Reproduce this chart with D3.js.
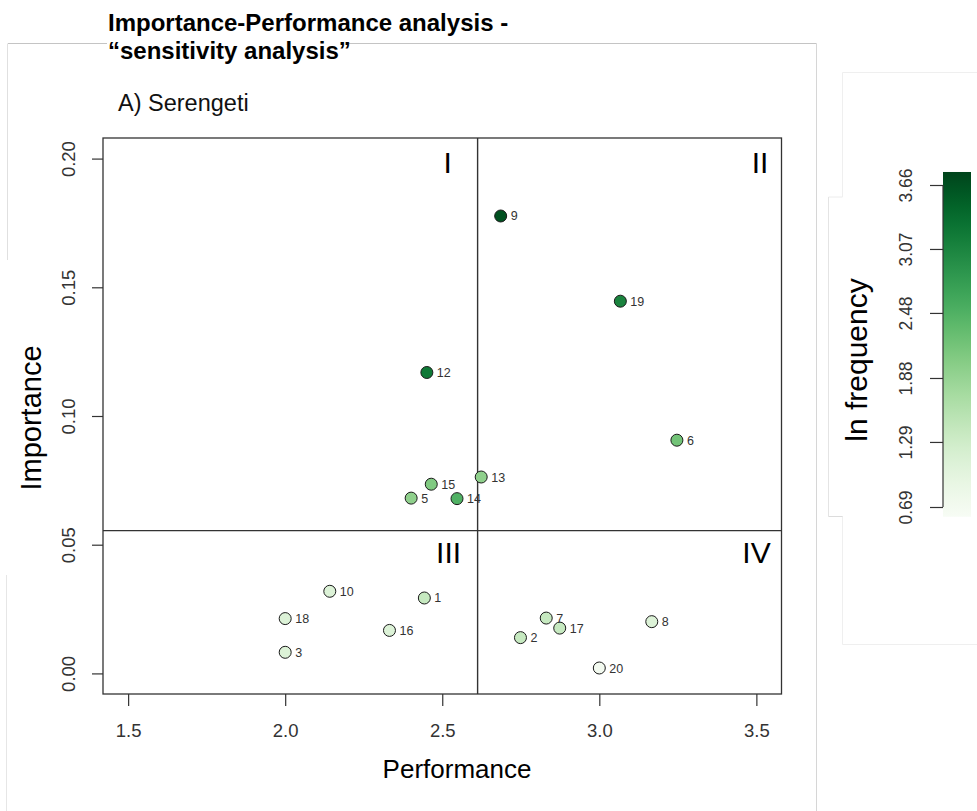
<!DOCTYPE html>
<html>
<head>
<meta charset="utf-8">
<script src="https://cdn.jsdelivr.net/npm/d3@7"></script>
<style>
  html, body { margin: 0; padding: 0; background: #fff; }
  svg { display: block; font-family: "Liberation Sans", Arial, Helvetica, sans-serif; }
</style>
</head>
<body>
<svg id="chart" width="977" height="811"></svg>
<script>
// Attribute ids, their performance / importance scores and ln(frequency)
const ids = [1, 2, 3, 5, 6, 7, 8, 9, 10, 12, 13, 14, 15, 16, 17, 18, 19, 20];
const performance = [2.443, 2.749, 2.000, 2.401, 3.247, 2.831, 3.167, 2.686, 2.142,
                     2.451, 2.624, 2.547, 2.465, 2.332, 2.874, 2.000, 3.067, 3.000];
const importance = [0.0293, 0.0139, 0.0082, 0.0681, 0.0906, 0.0215, 0.0201, 0.1777, 0.0319,
                    0.1169, 0.0763, 0.0679, 0.0735, 0.0167, 0.0176, 0.0213, 0.1446, 0.0021];
const lnFrequency = [1.39, 1.39, 1.10, 1.95, 2.20, 1.39, 1.10, 3.66, 1.10,
                     3.22, 1.95, 2.48, 2.08, 1.10, 1.39, 1.10, 3.09, 0.69];

const xTicks = [1.5, 2.0, 2.5, 3.0, 3.5];
const yTicks = [0.00, 0.05, 0.10, 0.15, 0.20];
const colorTicks = [0.69, 1.29, 1.88, 2.48, 3.07, 3.66];
const quadrantNames = ["I", "II", "III", "IV"];

const points = ids.map((id, i) => ({
  id, perf: performance[i], imp: importance[i], lnf: lnFrequency[i]
}));

const svg = d3.select("#chart");
const font = "'Liberation Sans', Arial, Helvetica, sans-serif";

// white page
svg.append("rect").attr("width", 977).attr("height", 811).attr("fill", "#fff");

// faint slide frames behind the figure
const frames = svg.append("g").attr("fill", "none");
const seg = (x1, y1, x2, y2, c) => frames.append("line")
  .attr("x1", x1).attr("y1", y1).attr("x2", x2).attr("y2", y2)
  .attr("stroke", c).attr("stroke-width", 1);
seg(8, 43.5, 107, 43.5, "#c4c4c4");
seg(348, 43.5, 816.5, 43.5, "#c4c4c4");
seg(816.5, 43.5, 816.5, 811, "#d6d6d6");
seg(7.5, 43.5, 7.5, 260, "#e0e0e0");
seg(6.5, 575, 6.5, 811, "#e6e6e6");
seg(842.5, 72.5, 977, 72.5, "#efefef");
seg(842.5, 72.5, 842.5, 197, "#efefef");
seg(842.5, 516, 842.5, 644.5, "#efefef");
seg(842.5, 644.5, 977, 644.5, "#efefef");
seg(828.5, 197, 842.5, 197, "#ececec");
seg(828.5, 197, 828.5, 516.5, "#e4e4e4");
seg(828.5, 516.5, 842.5, 516.5, "#dcdcdc");

// headings
svg.append("text").attr("x", 108).attr("y", 31)
  .attr("font-size", 24).attr("font-weight", "bold").attr("fill", "#000")
  .text("Importance-Performance analysis -");
svg.append("text").attr("x", 108).attr("y", 58.5)
  .attr("font-size", 24).attr("font-weight", "bold").attr("fill", "#000")
  .text("\u201Csensitivity analysis\u201D");
svg.append("text").attr("x", 118).attr("y", 110.5)
  .attr("font-size", 23.5).attr("fill", "#111")
  .text("A) Serengeti");

// scales
const x = d3.scaleLinear().domain([1.42, 3.58]).range([103, 781.5]);
const y = d3.scaleLinear().domain([-0.008, 0.208]).range([694, 138]);
const color = d3.scaleSequential(d3.interpolateGreens).domain([0.6, 3.78]);

// axes
const xAxis = svg.append("g").attr("transform", "translate(0,694)")
  .call(d3.axisBottom(x).tickValues(xTicks).tickFormat(d3.format(".1f")).tickSize(12));
xAxis.select(".domain").remove();
xAxis.selectAll(".tick line").attr("stroke", "#333").attr("stroke-width", 1.2);
xAxis.selectAll(".tick text").attr("y", 0).attr("dy", 0).attr("transform", "translate(0,42.6)")
  .attr("font-size", 18.5).attr("font-family", font).attr("fill", "#333");

const yAxis = svg.append("g").attr("transform", "translate(103,0)")
  .call(d3.axisLeft(y).tickValues(yTicks).tickFormat(d3.format(".2f")).tickSize(11));
yAxis.select(".domain").remove();
yAxis.selectAll(".tick line").attr("stroke", "#333").attr("stroke-width", 1.2);
yAxis.selectAll(".tick text").attr("x", 0).attr("dy", 0).attr("text-anchor", "middle")
  .attr("transform", "translate(-28.4,0) rotate(-90)")
  .attr("font-size", 18.5).attr("font-family", font).attr("fill", "#333");

// plot box
svg.append("rect").attr("x", 103).attr("y", 138)
  .attr("width", 781.5 - 103).attr("height", 694 - 138)
  .attr("fill", "none").attr("stroke", "#333").attr("stroke-width", 1.3);

// quadrant dividers at the mean performance and mean importance
const mPerf = d3.mean(performance);
const mImp = d3.mean(importance);
svg.append("line").attr("x1", x(mPerf)).attr("x2", x(mPerf)).attr("y1", 138).attr("y2", 694)
  .attr("stroke", "#333").attr("stroke-width", 1.4);
svg.append("line").attr("x1", 103).attr("x2", 781.5).attr("y1", y(mImp)).attr("y2", y(mImp))
  .attr("stroke", "#333").attr("stroke-width", 1.4);

// quadrant names
const qx = [x(mPerf) - 30, 760, x(mPerf) - 29, 756.5];
const qy = [172.5, 172.5, y(mImp) + 32.5, y(mImp) + 32.5];
svg.append("g").selectAll("text").data(quadrantNames).join("text")
  .attr("x", (d, i) => qx[i]).attr("y", (d, i) => qy[i])
  .attr("text-anchor", "middle").attr("font-size", 30).attr("fill", "#000")
  .text(d => d);

// points
svg.append("g").selectAll("circle").data(points).join("circle")
  .attr("cx", d => x(d.perf)).attr("cy", d => y(d.imp)).attr("r", 6)
  .attr("fill", d => color(d.lnf)).attr("stroke", "#1a1a1a").attr("stroke-width", 1);

svg.append("g").selectAll("text").data(points).join("text")
  .attr("x", d => x(d.perf) + 10).attr("y", d => y(d.imp)).attr("dy", "0.36em")
  .attr("font-size", 12.5).attr("fill", "#333")
  .text(d => d.id);

// axis titles
svg.append("text").attr("x", 457).attr("y", 778).attr("text-anchor", "middle")
  .attr("font-size", 26).attr("fill", "#000").text("Performance");
svg.append("text").attr("transform", "translate(41,418) rotate(-90)").attr("text-anchor", "middle")
  .attr("font-size", 29).attr("fill", "#000").text("Importance");

// colour bar
const yC = d3.scaleLinear().domain([0.69, 3.66]).range([507, 185]);
const barLo = 0.6, barHi = 3.78;
const grad = svg.append("defs").append("linearGradient").attr("id", "lnfGrad")
  .attr("x1", 0).attr("y1", 1).attr("x2", 0).attr("y2", 0);
d3.range(0, 1.0001, 0.05).forEach(t => {
  grad.append("stop").attr("offset", t).attr("stop-color", color(barLo + t * (barHi - barLo)));
});
svg.append("rect").attr("x", 943).attr("y", yC(barHi))
  .attr("width", 28).attr("height", yC(barLo) - yC(barHi))
  .attr("fill", "url(#lnfGrad)");

const cAxis = svg.append("g").attr("transform", "translate(943,0)")
  .call(d3.axisLeft(yC).tickValues(colorTicks).tickFormat(d3.format(".2f")).tickSize(13));
cAxis.select(".domain").attr("stroke", "#333").attr("stroke-width", 1.2)
  .attr("d", `M0,${yC(0.69)}V${yC(3.66)}`);
cAxis.selectAll(".tick line").attr("stroke", "#333").attr("stroke-width", 1.2);
cAxis.selectAll(".tick text").attr("x", 0).attr("dy", 0).attr("text-anchor", "middle")
  .attr("transform", "translate(-30.7,0) rotate(-90)")
  .attr("font-size", 17.5).attr("font-family", font).attr("fill", "#333");

svg.append("text").attr("transform", "translate(867,360) rotate(-90)").attr("text-anchor", "middle")
  .attr("font-size", 30).attr("fill", "#000").text("ln frequency");
</script>
</body>
</html>
